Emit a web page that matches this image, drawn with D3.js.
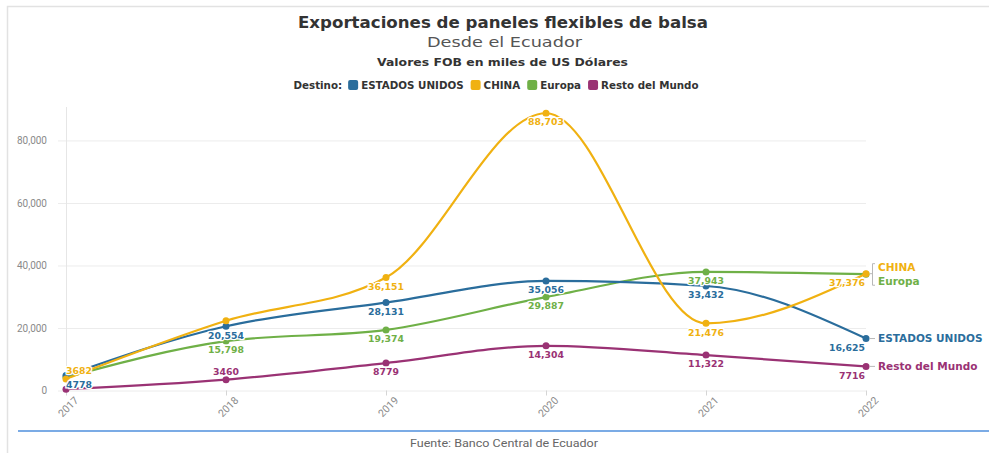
<!DOCTYPE html>
<html>
<head>
<meta charset="utf-8">
<script src="https://cdn.jsdelivr.net/npm/d3@7"></script>
<style>
  body { margin: 0; background: #fff; font-family: "DejaVu Sans", "Noto Sans", sans-serif; }
  svg { display: block; }
</style>
</head>
<body>
<div id="container"></div>
<script>
/* DATA */
const years = ["2017", "2018", "2019", "2020", "2021", "2022"];
const seriesNames = ["ESTADOS UNIDOS", "CHINA", "Europa", "Resto del Mundo"];
const estadosUnidos = [4778, 20554, 28131, 35056, 33432, 16625];
const china = [3682, 22300, 36151, 88703, 21476, 37376];
const europa = [4200, 15798, 19374, 29887, 37943, 37200];
const restoMundo = [400, 3460, 8779, 14304, 11322, 7716];
// which value labels are shown (null = hidden)
const chinaLabels = ["3682", null, "36,151", "88,703", "21,476", "37,376"];
const europaLabels = [null, "15,798", "19,374", "29,887", "37,943", null];
const euLabels = ["4778", "20,554", "28,131", "35,056", "33,432", "16,625"];
const restoLabels = [null, "3460", "8779", "14,304", "11,322", "7716"];
const yTicks = [0, 20000, 40000, 60000, 80000];

/* CONSTANTS */
const width = 989, height = 453;
const colors = { "ESTADOS UNIDOS": "#2a6d9c", "CHINA": "#f0b111", "Europa": "#6fb047", "Resto del Mundo": "#9a3274" };

const series = [
  { name: "ESTADOS UNIDOS", values: estadosUnidos, labels: euLabels, above: [] },
  { name: "CHINA", values: china, labels: chinaLabels, above: ["2017"] },
  { name: "Europa", values: europa, labels: europaLabels, above: [] },
  { name: "Resto del Mundo", values: restoMundo, labels: restoLabels, above: ["2018"] },
];

const svg = d3.select("#container").append("svg")
  .attr("width", width).attr("height", height);

// frame
svg.append("path").attr("d", "M7.5,453 V6.5 H989").attr("fill", "none")
  .attr("stroke", "#e2e2e2").attr("stroke-width", 1.5);

// HEADER (widths stretched to match the original)
svg.append("text").attr("x", 298).attr("y", 28)
  .attr("font-size", 15).attr("font-weight", 700).attr("fill", "#333")
  .attr("textLength", 410).attr("lengthAdjust", "spacingAndGlyphs")
  .text("Exportaciones de paneles flexibles de balsa");
svg.append("text").attr("x", 427).attr("y", 47)
  .attr("font-size", 14.5).attr("fill", "#555")
  .attr("textLength", 155).attr("lengthAdjust", "spacingAndGlyphs")
  .text("Desde el Ecuador");
svg.append("text").attr("x", 377).attr("y", 66)
  .attr("font-size", 11).attr("font-weight", 700).attr("fill", "#333")
  .attr("textLength", 251).attr("lengthAdjust", "spacingAndGlyphs")
  .text("Valores FOB en miles de US Dólares");

// LEGEND
const legend = svg.append("g").attr("font-size", 10.3).attr("font-weight", 700);
let lx = 0;
const lt = legend.append("text").attr("x", 0).attr("y", 89).attr("fill", "#333").text("Destino:");
lx = lt.node().getComputedTextLength() + 6;
seriesNames.forEach(n => {
  legend.append("rect").attr("x", lx).attr("y", 80).attr("width", 10).attr("height", 10)
    .attr("rx", 2).attr("fill", colors[n]);
  const t = legend.append("text").attr("x", lx + 13).attr("y", 89).attr("fill", "#333").text(n);
  lx += 13 + t.node().getComputedTextLength() + 7;
});
legend.attr("transform", `translate(${496 - (lx - 7) / 2},0)`);

// SCALES
const x = d3.scalePoint().domain(years).range([66, 866]);
const y = d3.scaleLinear().domain([0, 90700]).range([390.5, 107]);

// GRID + AXES
const yAxis = svg.append("g").attr("transform", "translate(866,0)")
  .call(d3.axisLeft(y).tickValues(yTicks).tickSize(808).tickFormat(d3.format(",")).tickPadding(11));
yAxis.select(".domain").remove();
yAxis.selectAll("line").attr("stroke", "#ececec");
yAxis.selectAll("text").attr("fill", "#8a8a8a").attr("font-size", 10)
  .attr("font-family", "Roboto, sans-serif");

svg.append("line").attr("x1", 66.5).attr("x2", 66.5).attr("y1", 107).attr("y2", 390.5)
  .attr("stroke", "#e6e6e6");

const xAxis = svg.append("g").attr("transform", "translate(0,390.5)")
  .call(d3.axisBottom(x).tickSize(5).tickPadding(4));
xAxis.select(".domain").remove();
xAxis.selectAll("line").attr("stroke", "#d5d5d5");
xAxis.selectAll("text").attr("fill", "#8a8a8a").attr("font-size", 10.5)
  .attr("font-family", "Roboto, sans-serif")
  .attr("text-anchor", "end").attr("dy", "0.3em")
  .attr("transform", "translate(4,2) rotate(-45)");

// LINES
const line = d3.line().x((d, i) => x(years[i])).y(d => y(d)).curve(d3.curveMonotoneX);
const drawOrder = ["Resto del Mundo", "Europa", "ESTADOS UNIDOS", "CHINA"];
drawOrder.forEach(n => {
  const s = series.find(d => d.name === n);
  const g = svg.append("g");
  g.append("path").attr("d", line(s.values)).attr("fill", "none")
    .attr("stroke", colors[n]).attr("stroke-width", 2.2);
  g.selectAll("circle").data(s.values).join("circle")
    .attr("cx", (d, i) => x(years[i])).attr("cy", d => y(d)).attr("r", 3.5)
    .attr("fill", colors[n]);
});

// VALUE LABELS
series.forEach(s => {
  svg.append("g").selectAll("text")
    .data(s.values.map((v, i) => ({ v, i, label: s.labels[i] })).filter(d => d.label))
    .join("text")
    .attr("x", d => x(years[d.i]) + (d.i === years.length - 1 ? -1 : 0))
    .attr("y", d => y(d.v) + (s.above.includes(years[d.i]) ? -8 : 9))
    .attr("dy", "0.35em")
    .attr("text-anchor", d => d.i === 0 ? "start" : d.i === years.length - 1 ? "end" : "middle")
    .attr("font-size", 9.3).attr("font-weight", 700)
    .attr("fill", colors[s.name])
    .attr("stroke", "#fff").attr("stroke-width", 2.5).attr("paint-order", "stroke")
    .text(d => d.label);
});

// END LABELS
const last = years.length - 1;
const endY = { "CHINA": y(china[last]) - 6, "Europa": y(europa[last]) + 7,
  "ESTADOS UNIDOS": y(estadosUnidos[last]), "Resto del Mundo": y(restoMundo[last]) };
const conn = svg.append("g").attr("stroke", "#b8b8b8").attr("fill", "none").attr("stroke-width", 1);
conn.append("path").attr("d", `M870,${y(china[last])} H872.5 M875,${endY.CHINA - 4} H872.5 V${endY.Europa + 4} H875`);
conn.append("path").attr("d", `M870,${endY["ESTADOS UNIDOS"]} H875`);
conn.append("path").attr("d", `M870,${endY["Resto del Mundo"]} H875`);
seriesNames.forEach(n => {
  svg.append("text").attr("x", 878).attr("y", endY[n]).attr("dy", "0.35em")
    .attr("font-size", 10.5).attr("font-weight", 700).attr("fill", colors[n]).text(n);
});

// FOOTER
svg.append("line").attr("x1", 18).attr("x2", 989).attr("y1", 431).attr("y2", 431)
  .attr("stroke", "#4f8fdc").attr("stroke-width", 1.5);
svg.append("text").attr("x", 410).attr("y", 447)
  .attr("font-size", 11).attr("fill", "#666")
  .attr("font-family", "Roboto, sans-serif")
  .attr("textLength", 188).attr("lengthAdjust", "spacingAndGlyphs")
  .text("Fuente: Banco Central de Ecuador");
</script>
</body>
</html>
